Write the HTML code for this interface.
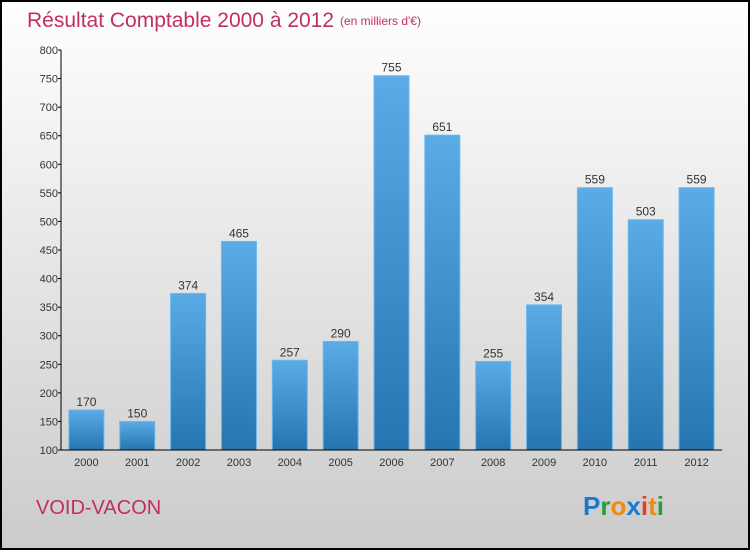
<!DOCTYPE html>
<html><head><meta charset="utf-8"><style>
body{margin:0;width:750px;height:550px;overflow:hidden;font-family:"Liberation Sans",sans-serif;}
</style></head><body>
<svg width="750" height="550" xmlns="http://www.w3.org/2000/svg">
<defs>
<linearGradient id="bg" x1="0" y1="0" x2="0" y2="1"><stop offset="0" stop-color="#ffffff"/><stop offset="1" stop-color="#cbcbcb"/></linearGradient>
<linearGradient id="bar" x1="0" y1="0" x2="0" y2="1"><stop offset="0" stop-color="#5aabe6"/><stop offset="1" stop-color="#2675b0"/></linearGradient>
</defs>
<rect x="1" y="1" width="748" height="548" fill="url(#bg)" stroke="#000" stroke-width="2"/>
<text x="27" y="27" font-size="21" fill="#c0305f">Résultat Comptable 2000 à 2012</text>
<text x="340" y="25" font-size="12" fill="#c0305f">(en milliers d'€)</text>
<g id="grid"></g>
<g id="bars"></g>
<line x1="61" y1="50" x2="61" y2="450" stroke="#000"/>
<line x1="61" y1="450" x2="722" y2="450" stroke="#000"/>
<text x="36" y="514" font-size="20" fill="#c0305f">VOID-VACON</text>
<g font-size="26" font-weight="bold">
<text x="583" y="515"><tspan fill="#1a7ad0">P</tspan><tspan fill="#2a9d3a">r</tspan><tspan fill="#f08a10">o</tspan><tspan fill="#1a7ad0">x</tspan><tspan fill="#e0402a">i</tspan><tspan fill="#f08a10">t</tspan><tspan fill="#2a9d3a">i</tspan></text>
</g>
</svg>
<script>
const years=["2000","2001","2002","2003","2004","2005","2006","2007","2008","2009","2010","2011","2012"];
const values=[170,150,374,465,257,290,755,651,255,354,559,503,559];
const yTicks=[100,150,200,250,300,350,400,450,500,550,600,650,700,750,800];
const NS="http://www.w3.org/2000/svg";
const x0=61,x1=722,yMin=100,yMax=800,py0=450,py1=50;
const band=(x1-x0)/years.length;
const y=v=>py0-(v-yMin)/(yMax-yMin)*(py0-py1);
const xc=i=>x0+band*(i+0.5);
function mk(t,a,p){const e=document.createElementNS(NS,t);for(const k in a)e.setAttribute(k,a[k]);p.appendChild(e);return e;}
const svg=document.querySelector('svg');const g=document.getElementById('grid');const b=document.getElementById('bars');
yTicks.forEach(v=>{
 const l=mk('line',{x1:x0-3,x2:x0,y1:y(v),y2:y(v),stroke:'#000'},g);
 
 
 const t=mk('text',{x:x0-3,y:y(v)+4,'font-size':11,'text-anchor':'end',fill:'#333'},g);
 t.textContent=v;
 
 
});
years.forEach((yr,i)=>{
 const w=35,h=y(yMin)-y(values[i]);
 const r=mk('rect',{x:xc(i)-w/2,y:y(values[i]),width:w,height:h,fill:'url(#bar)',stroke:'#6bb8ee','stroke-width':1},b);
 
 
 const vl=mk('text',{x:xc(i),y:y(values[i])-4,'font-size':12,'text-anchor':'middle',fill:'#333'},b);
 vl.textContent=values[i];
 
 
 const xl=mk('text',{x:xc(i),y:466,'font-size':11,'text-anchor':'middle',fill:'#333'},b);
 xl.textContent=yr;
 
 
});
</script>
</body></html>
